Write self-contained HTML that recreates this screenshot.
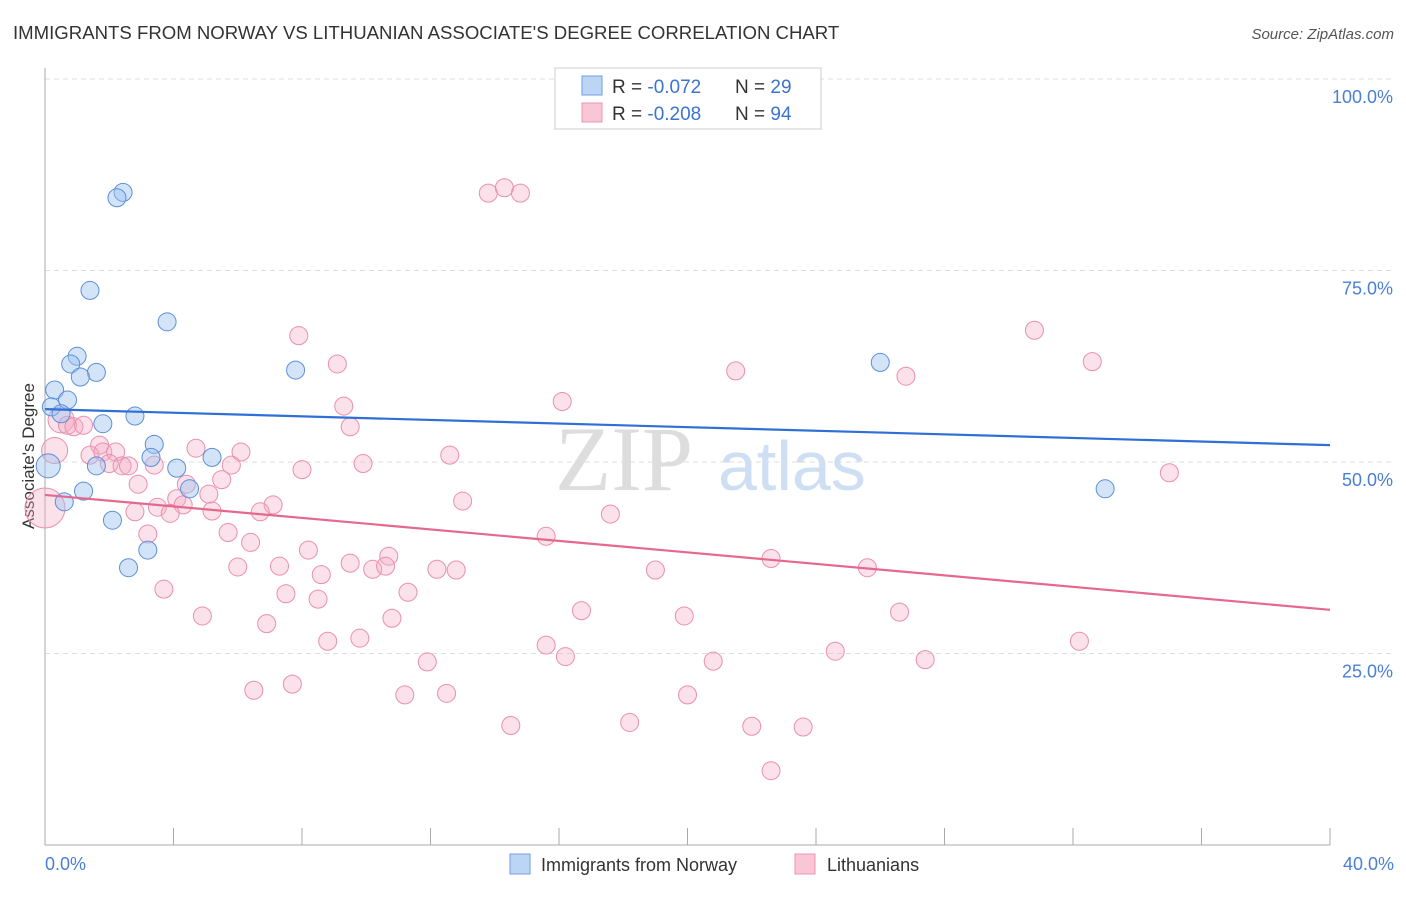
<!DOCTYPE html>
<html><head><meta charset="utf-8"><style>
body{margin:0;background:#fff;font-family:"Liberation Sans",sans-serif}
</style></head><body>
<svg id="chart" width="1406" height="892" xmlns="http://www.w3.org/2000/svg" font-family="Liberation Sans, sans-serif">
<text x="13" y="39" font-size="18.6" fill="#333">IMMIGRANTS FROM NORWAY VS LITHUANIAN ASSOCIATE'S DEGREE CORRELATION CHART</text>
<text x="1394" y="39" font-size="15" fill="#555" font-style="italic" text-anchor="end">Source: ZipAtlas.com</text>
<g><text x="555" y="490" font-size="92" fill="#ddd" font-family="Liberation Serif, serif">ZIP</text><text x="718" y="490" font-size="70" fill="#cfdff3">atlas</text></g>
<g id="grid"></g>
<line x1="45" y1="68" x2="45" y2="845" stroke="#aaa"/>
<line x1="45" y1="845" x2="1330" y2="845" stroke="#aaa"/>
<g id="xticks"></g>
<text transform="translate(34,456) rotate(-90)" font-size="17" fill="#333" text-anchor="middle">Associate's Degree</text>
<text x="45" y="870" font-size="18" fill="#4a7fd4">0.0%</text>
<text x="1394" y="870" font-size="18" fill="#4a7fd4" text-anchor="end">40.0%</text>
<g id="pts"></g>
<g id="lines"></g>
<g>
<rect x="555" y="68" width="266" height="61" fill="#fff" stroke="#ccc"/>
<rect x="582" y="76" width="20" height="19" fill="#bcd5f5" stroke="#6f9ee0"/>
<rect x="582" y="103" width="20" height="19" fill="#f9c6d5" stroke="#ec94b0"/>
<text x="612" y="93" font-size="19" fill="#333">R = <tspan fill="#3b73cf">-0.072</tspan></text>
<text x="735" y="93" font-size="19" fill="#333">N = <tspan fill="#3b73cf">29</tspan></text>
<text x="612" y="120" font-size="19" fill="#333">R = <tspan fill="#3b73cf">-0.208</tspan></text>
<text x="735" y="120" font-size="19" fill="#333">N = <tspan fill="#3b73cf">94</tspan></text>
</g>
<g><rect x="510" y="854" width="20" height="20" fill="#bcd5f5" stroke="#6f9ee0"/><text x="541" y="871" font-size="18" fill="#333">Immigrants from Norway</text></g>
<g><rect x="795" y="854" width="20" height="20" fill="#f9c6d5" stroke="#ec94b0"/><text x="827" y="871" font-size="18" fill="#333">Lithuanians</text></g>
</svg>
<script>
const yTicks=[25,50,75,100];
const xTickVals=[0,4,8,12,16,20,24,28,32,36,40];
const blueX=[2.43,2.24,1.4,3.8,1.0,0.8,1.6,1.1,0.3,7.8,0.7,0.2,0.5,2.8,1.8,3.4,3.3,4.1,5.2,1.6,0.1,1.2,4.5,0.6,2.1,3.2,2.6,26.0,33.0];
const blueY=[85.2,84.5,72.4,68.3,63.8,62.8,61.7,61.1,59.4,62.0,58.1,57.2,56.3,56.0,55.0,52.3,50.6,49.2,50.6,49.5,49.5,46.2,46.5,44.8,42.4,38.5,36.2,63.0,46.5];
const blueR=[9,9,9,9,9,9,9,9,9,9,9,9,9,9,9,9,9,9,9,9,12,9,9,9,9,9,9,9,9];
const pinkX=[13.8,14.3,14.8,7.9,30.8,32.6,9.1,21.5,26.8,16.1,9.3,9.5,0.5,0.7,0.9,1.2,1.7,1.4,1.8,2.2,0.3,2.0,2.4,2.6,3.4,4.7,6.1,5.8,9.9,12.6,8.0,35.0,2.9,5.5,4.1,5.1,4.4,4.3,13.0,7.1,6.7,3.5,2.8,3.9,5.2,17.6,0.0,3.2,5.7,6.4,15.6,8.2,10.7,22.6,9.5,6.0,7.3,10.2,10.6,12.2,12.8,19.0,25.6,8.6,3.7,7.5,8.5,11.3,4.9,16.7,19.9,26.6,10.8,6.9,8.8,9.8,15.6,32.2,24.6,16.2,11.9,20.8,27.4,6.5,7.7,11.2,12.5,20.0,14.5,18.2,22.0,23.6,22.6];
const pinkY=[85.1,85.8,85.1,66.5,67.2,63.1,62.8,61.9,61.2,57.9,57.3,54.6,55.5,54.8,54.6,54.8,52.2,50.9,51.3,51.3,51.5,49.8,49.5,49.5,49.6,51.8,51.3,49.6,49.8,50.9,49.0,48.6,47.1,47.7,45.2,45.8,47.1,44.4,44.9,44.4,43.5,44.1,43.5,43.3,43.6,43.2,44.0,40.6,40.8,39.5,40.3,38.5,37.7,37.4,36.8,36.3,36.4,36.0,36.4,36.0,35.9,35.9,36.2,35.3,33.4,32.8,32.1,33.0,29.9,30.6,29.9,30.4,29.6,28.9,26.6,27.0,26.1,26.6,25.3,24.6,23.9,24.0,24.2,20.2,21.0,19.6,19.8,19.6,15.6,16.0,15.5,15.4,9.7];
const lineX=[0,40];
const blueLineY=[56.9,52.2];
const pinkLineY=[45.7,30.7];
const NS='http://www.w3.org/2000/svg';
const xs=v=>45+v/40*1285, ys=v=>845-v*7.66;
function mk(t,a,p){const e=document.createElementNS(NS,t);for(const k in a)e.setAttribute(k,a[k]);p.appendChild(e);return e;}
const grid=document.getElementById('grid');
yTicks.forEach(v=>{
 const l=mk('line',{x1:45,x2:1394,y1:ys(v),y2:ys(v),stroke:'#ddd','stroke-dasharray':'5,4'},grid);
 
 
 const t=mk('text',{x:1393,y:ys(v)+24,'font-size':18,fill:'#4a7fd4','text-anchor':'end'},grid);
 t.textContent=v.toFixed(1)+'%';
 
 
});
const xt=document.getElementById('xticks');
xTickVals.forEach(v=>{
 const l=mk('line',{x1:xs(v),x2:xs(v),y1:828,y2:845,stroke:'#aaa'},xt);
 
 
});
const pts=document.getElementById('pts');
pinkX.forEach((x,i)=>{
 const r=(x<0.6&&(pinkY[i]>51||pinkY[i]<45))?(x<0.1?20:13):9;
 const c=mk('circle',{cx:xs(x),cy:ys(pinkY[i]),r:r,fill:'rgba(244,170,195,0.35)',stroke:'#ea8fae','stroke-width':1},pts);
 
 
});
blueX.forEach((x,i)=>{
 const c=mk('circle',{cx:xs(x),cy:ys(blueY[i]),r:blueR[i],fill:'rgba(160,195,240,0.45)',stroke:'#5b8fd9','stroke-width':1},pts);
 
 
});
const lines=document.getElementById('lines');
const bl=mk('line',{x1:xs(lineX[0]),y1:ys(blueLineY[0]),x2:xs(lineX[1]),y2:ys(blueLineY[1]),stroke:'#2f6fd6','stroke-width':2.2},lines);


const pl=mk('line',{x1:xs(lineX[0]),y1:ys(pinkLineY[0]),x2:xs(lineX[1]),y2:ys(pinkLineY[1]),stroke:'#e5688f','stroke-width':2.2},lines);


</script>
</body></html>
